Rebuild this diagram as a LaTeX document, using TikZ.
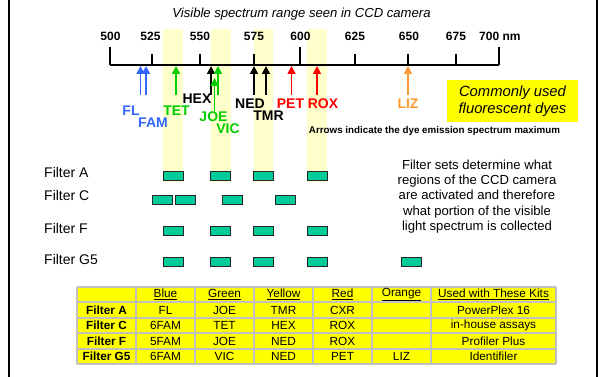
\documentclass[tikz,border=0pt]{standalone}
\usepackage{fontspec}
\setmainfont{Liberation Sans}
\usetikzlibrary{arrows.meta}
\definecolor{dblue}{HTML}{3366FF}
\definecolor{dgreen}{HTML}{00CC00}
\definecolor{dred}{HTML}{FF0000}
\definecolor{dorange}{HTML}{FF9933}
\definecolor{bandyellow}{HTML}{FFFFCC}
\definecolor{filtgreen}{HTML}{00CC99}
\definecolor{tgrey}{HTML}{C0C0C0}
\definecolor{tyellow}{HTML}{FFFF00}
\tikzset{
  axisline/.style={line width=1.3pt, black},
  dyearrow/.style={line width=1.7pt, -{Triangle[width=8pt,length=8pt]}, shorten <=0pt},
  dyelbl/.style={inner sep=0pt, font=\fontsize{14}{16}\selectfont\bfseries},
  ticklbl/.style={inner sep=0pt, font=\fontsize{12}{13}\selectfont\bfseries},
  fbox/.style={draw=black!85, line width=0.9pt, fill=filtgreen, minimum width=20pt, minimum height=9pt, inner sep=0pt},
  flbl/.style={inner sep=0pt, anchor=west, font=\fontsize{14}{16}\selectfont},
  tcell/.style={inner sep=0pt, font=\fontsize{11.8}{13}\selectfont},
  tbold/.style={inner sep=0pt, font=\fontsize{11.8}{13}\selectfont\bfseries},
}
\begin{document}
\begin{tikzpicture}[x=1pt,y=-1pt]
\useasboundingbox (0,0) rectangle (602,377);
% highlight bands
\fill[bandyellow] (163,29) rectangle (183,182);
\fill[bandyellow] (211,29) rectangle (231,182);
\fill[bandyellow] (254,29) rectangle (273,182);
\fill[bandyellow] (307,29) rectangle (327,182);
% frame
\draw[line width=2pt] (9,0) -- (9,377);
\draw[line width=2pt] (597,0) -- (597,377);
% title
\node[inner sep=0pt, font=\fontsize{13.1}{15}\selectfont\itshape] (title) at (301.5,14) {Visible spectrum range seen in CCD camera};
% axis
\coordinate (a500) at (110,65);
\coordinate (a700) at (499,65);
\draw[axisline] (a500) -- (a700);
\foreach \x/\t in {110/47,152/54,200/54,254/54,300/47,355/54,408/54,456/54,499/47}{
  \draw[axisline] (\x,65) -- (\x,\t);
}
\node[ticklbl] (l500) at (110.5,36.5) {500};
\node[ticklbl] (l525) at (150.5,36.5) {525};
\node[ticklbl] (l550) at (200,36.5) {550};
\node[ticklbl] (l575) at (254,36.5) {575};
\node[ticklbl] (l600) at (300.5,36.5) {600};
\node[ticklbl] (l625) at (355,36.5) {625};
\node[ticklbl] (l650) at (409,36.5) {650};
\node[ticklbl] (l675) at (456,36.5) {675};
\node[ticklbl, anchor=west] (l700) at (479,36.5) {700 nm};
% arrows: tails and tips
\foreach \n/\x/\a/\b in {FL/140.5/95/66, FAM/146/95/66, TET/176/95/66, HEX/211/95/66, JOE/218/95/66, VIC/214.5/111/78, NED/254/95/66, TMR/266/95/66, PET/291.5/95/66, ROX/317/95/66, LIZ/408/95/66}{
  \coordinate (t\n) at (\x,\a);
  \coordinate (h\n) at (\x,\b);
}
\draw[dyearrow, dblue] (tFL) -- (hFL);
\draw[dyearrow, dblue] (tFAM) -- (hFAM);
\draw[dyearrow, dgreen] (tTET) -- (hTET);
\draw[dyearrow, black] (tHEX) -- (hHEX);
\draw[dyearrow, dgreen] (tJOE) -- (hJOE);
\draw[dyearrow, dgreen] (tVIC) -- (hVIC);
\draw[dyearrow, black] (tNED) -- (hNED);
\draw[dyearrow, black] (tTMR) -- (hTMR);
\draw[dyearrow, dred] (tPET) -- (hPET);
\draw[dyearrow, dred] (tROX) -- (hROX);
\draw[dyearrow, dorange] (tLIZ) -- (hLIZ);
% dye labels
\node[dyelbl, dblue] (nFL) at (131,111) {FL};
\node[dyelbl, dblue] (nFAM) at (153,123) {FAM};
\node[dyelbl, dgreen] (nTET) at (176.5,111) {TET};
\node[dyelbl, black] (nHEX) at (197,99) {HEX};
\node[dyelbl, dgreen] (nJOE) at (213.5,117) {JOE};
\node[dyelbl, dgreen] (nVIC) at (228,129) {VIC};
\node[dyelbl, black] (nNED) at (250,103.5) {NED};
\node[dyelbl, black] (nTMR) at (268.5,116) {TMR};
\node[dyelbl, dred] (nPET) at (290.5,104) {PET};
\node[dyelbl, dred] (nROX) at (323,104) {ROX};
\node[dyelbl, dorange] (nLIZ) at (408,104) {LIZ};
% yellow callout
\node[fill=tyellow, minimum width=131pt, minimum height=42pt, inner sep=0pt, align=center,
      font=\fontsize{14.8}{16.7}\selectfont\itshape] (callout) at (512.5,101) {Commonly used\\fluorescent dyes};
\node[inner sep=0pt, font=\fontsize{9.8}{11}\selectfont\bfseries] (note) at (434.5,131) {Arrows indicate the dye emission spectrum maximum};
% filter labels
\node[flbl] (fA) at (44,172) {Filter A};
\node[flbl] (fC) at (44,195.5) {Filter C};
\node[flbl] (fF) at (44,228) {Filter F};
\node[flbl] (fG) at (44,259) {Filter G5};
% filter boxes
\node[fbox] (bA1) at (173,176) {};
\node[fbox] (bA2) at (220.5,176) {};
\node[fbox] (bA3) at (263.5,176) {};
\node[fbox] (bA4) at (317,176) {};
\node[fbox] (bC1) at (162,200) {};
\node[fbox] (bC2) at (185,200) {};
\node[fbox] (bC3) at (232,200) {};
\node[fbox] (bC4) at (285.5,200) {};
\node[fbox] (bF1) at (173,230.5) {};
\node[fbox] (bF2) at (220.5,230.5) {};
\node[fbox] (bF3) at (263.5,230.5) {};
\node[fbox] (bF4) at (317,230.5) {};
\node[fbox] (bG1) at (173,261.5) {};
\node[fbox] (bG2) at (220.5,261.5) {};
\node[fbox] (bG3) at (263.5,261.5) {};
\node[fbox] (bG4) at (317,261.5) {};
\node[fbox] (bG5) at (411,261.5) {};
% explanation text
\node[inner sep=0pt, align=center, font=\fontsize{13.1}{15.3}\selectfont] (expl) at (477,196.5)
  {Filter sets determine what\\regions of the CCD camera\\are activated and therefore\\what portion of the visible\\light spectrum is collected};
% table
\fill[tyellow] (77,287) rectangle (556,364);
\foreach \x in {77,136,195,254,313,372,431,556}{
  \draw[tgrey, line width=1.5pt] (\x,287) -- (\x,364);
}
\foreach \y in {287,302,318,333,349,364}{
  \draw[tgrey, line width=1.5pt] (77,\y) -- (556,\y);
}
\node[tcell] (hB) at (165.5,294.5) {\underline{Blue}};
\node[tcell] (hG) at (224.5,294.5) {\underline{Green}};
\node[tcell] (hY) at (283.5,294.5) {\underline{Yellow}};
\node[tcell] (hR) at (342.5,294.5) {\underline{Red}};
\node[tcell] (hO) at (401.5,294.5) {\underline{Orange}};
\node[tcell] (hK) at (493.5,294.5) {\underline{Used with These Kits}};
\node[tbold] (rA) at (106.5,310) {Filter A};
\node[tbold] (rC) at (106.5,325.5) {Filter C};
\node[tbold] (rF) at (106.5,341) {Filter F};
\node[tbold] (rG) at (106.5,356.5) {Filter G5};
\node[tcell] (cA1) at (165.5,310) {FL};
\node[tcell] (cA2) at (224.5,310) {JOE};
\node[tcell] (cA3) at (283.5,310) {TMR};
\node[tcell] (cA4) at (342.5,310) {CXR};
\node[tcell] (cA6) at (493.5,310) {PowerPlex 16};
\node[tcell] (cC1) at (165.5,325.5) {6FAM};
\node[tcell] (cC2) at (224.5,325.5) {TET};
\node[tcell] (cC3) at (283.5,325.5) {HEX};
\node[tcell] (cC4) at (342.5,325.5) {ROX};
\node[tcell] (cC6) at (493.5,325.5) {in-house assays};
\node[tcell] (cF1) at (165.5,341) {5FAM};
\node[tcell] (cF2) at (224.5,341) {JOE};
\node[tcell] (cF3) at (283.5,341) {NED};
\node[tcell] (cF4) at (342.5,341) {ROX};
\node[tcell] (cF6) at (493.5,341) {Profiler Plus};
\node[tcell] (cG1) at (165.5,356.5) {6FAM};
\node[tcell] (cG2) at (224.5,356.5) {VIC};
\node[tcell] (cG3) at (283.5,356.5) {NED};
\node[tcell] (cG4) at (342.5,356.5) {PET};
\node[tcell] (cG5) at (401.5,356.5) {LIZ};
\node[tcell] (cG6) at (493.5,356.5) {Identifiler};
\end{tikzpicture}
\end{document}
